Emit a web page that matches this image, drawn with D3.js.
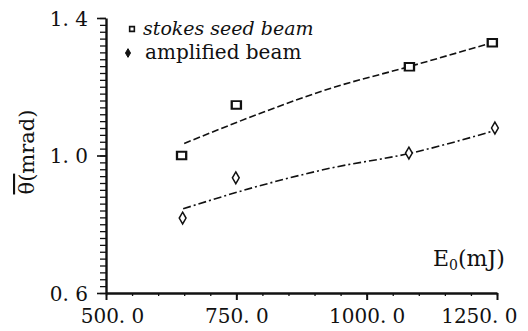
<!DOCTYPE html>
<html>
<head>
<meta charset="utf-8">
<script src="https://cdn.jsdelivr.net/npm/d3@7"></script>
<style>
  html, body { margin: 0; padding: 0; background: #fff; }
</style>
</head>
<body>
<svg id="chart" width="528" height="331"></svg>
<script>
// ---- data ----
const stokesE = [645, 750, 1082, 1241];
const stokesTheta = [1.00, 1.147, 1.258, 1.328];
const amplifiedE = [647, 749, 1081, 1246];
const amplifiedTheta = [0.818, 0.935, 1.007, 1.08];
const stokesFitE = [650, 800, 930, 1080, 1245];
const stokesFitTheta = [1.035, 1.125, 1.195, 1.258, 1.33];
const amplifiedFitE = [648, 795, 930, 1082, 1240];
const amplifiedFitTheta = [0.845, 0.912, 0.963, 1.006, 1.07];
const xTickValues = [500, 750, 1000, 1250];
const xTickLabels = ["500. 0", "750. 0", "1000. 0", "1250. 0"];
const yTickValues = [0.6, 1.0, 1.4];
const yTickLabels = ["0. 6", "1. 0", "1. 4"];
const legendLabels = ["stokes seed beam", "amplified beam"];

// ---- drawing ----
const SERIF = "'DejaVu Serif', 'Liberation Serif', serif";
const svg = d3.select("#chart").attr("font-family", SERIF);
const x = d3.scaleLinear().domain([500, 1250]).range([106, 497]);
const y = d3.scaleLinear().domain([0.6, 1.4]).range([293, 18]);

const xMinor = d3.range(500, 1251, 50);
const yMinor = d3.range(0, 41).map(i => 0.6 + i * 0.02);

// y axis minor ticks
const yAxisMinor = svg.append("g").attr("transform", `translate(${x(500)},0)`)
  .call(d3.axisLeft(y).tickValues(yMinor).tickSize(6).tickFormat(""));
yAxisMinor.select(".domain").remove();
yAxisMinor.selectAll("line").attr("stroke", "#111").attr("stroke-width", 1.3);

// y axis major
const yAxis = svg.append("g").attr("transform", `translate(${x(500)},0)`)
  .call(d3.axisLeft(y).tickValues(yTickValues).tickSize(9).tickSizeOuter(0)
    .tickFormat((d, i) => yTickLabels[i]));
yAxis.attr("font-family", SERIF);
yAxis.select(".domain").attr("stroke", "#111").attr("stroke-width", 2.4);
yAxis.selectAll("line").attr("stroke", "#111").attr("stroke-width", 1.6);
yAxis.selectAll("text").attr("font-size", 20).attr("x", -18).attr("dy", "0.35em")
  .attr("fill", "#111");

// x axis minor
const xAxisMinor = svg.append("g").attr("transform", `translate(0,${y(0.6)})`)
  .call(d3.axisBottom(x).tickValues(xMinor).tickSize(3).tickFormat(""));
xAxisMinor.select(".domain").remove();
xAxisMinor.selectAll("line").attr("stroke", "#111").attr("stroke-width", 1.3);

// x axis major
const xAxis = svg.append("g").attr("transform", `translate(0,${y(0.6)})`)
  .call(d3.axisBottom(x).tickValues(xTickValues).tickSize(7).tickSizeOuter(0)
    .tickFormat((d, i) => xTickLabels[i]));
xAxis.attr("font-family", SERIF);
xAxis.select(".domain").attr("stroke", "#111").attr("stroke-width", 2.6);
xAxis.selectAll("line").attr("stroke", "#111").attr("stroke-width", 2);
xAxis.selectAll("text").attr("font-size", 20).attr("y", 16).attr("dy", "0.71em")
  .attr("fill", "#111")
  .attr("text-anchor", (d, i) => i === xTickValues.length - 1 ? "end" : "middle")
  .attr("x", (d, i) => i === xTickValues.length - 1 ? 20 : (i === 0 ? 6 : 0));

// fit lines
const line = d3.line().x(d => x(d[0])).y(d => y(d[1])).curve(d3.curveMonotoneX);
svg.append("path")
  .datum(stokesFitE.map((e, i) => [e, stokesFitTheta[i]]))
  .attr("d", line).attr("fill", "none").attr("stroke", "#111")
  .attr("stroke-width", 1.6).attr("stroke-dasharray", "7,3");
svg.append("path")
  .datum(amplifiedFitE.map((e, i) => [e, amplifiedFitTheta[i]]))
  .attr("d", line).attr("fill", "none").attr("stroke", "#111")
  .attr("stroke-width", 1.6).attr("stroke-dasharray", "8,3,2,3");

// markers
const sq = d3.symbol().type(d3.symbolSquare).size(64);
const dm = d3.symbol().type(d3.symbolDiamond).size(40);
svg.append("g").selectAll("path")
  .data(stokesE.map((e, i) => [e, stokesTheta[i]]))
  .join("path")
  .attr("d", sq)
  .attr("transform", d => `translate(${x(d[0])},${y(d[1])}) scale(1.15,0.95)`)
  .attr("fill", "#fff").attr("stroke", "#111").attr("stroke-width", 2);
svg.append("g").selectAll("path")
  .data(amplifiedE.map((e, i) => [e, amplifiedTheta[i]]))
  .join("path")
  .attr("d", dm)
  .attr("transform", d => `translate(${x(d[0])},${y(d[1])})`)
  .attr("fill", "#fff").attr("stroke", "#111").attr("stroke-width", 1.5);

// legend
const leg = svg.append("g");
leg.append("path").attr("d", d3.symbol().type(d3.symbolSquare).size(22))
  .attr("transform", "translate(132,29)")
  .attr("fill", "#fff").attr("stroke", "#111").attr("stroke-width", 1.6);
leg.append("path").attr("d", d3.symbol().type(d3.symbolDiamond).size(22))
  .attr("transform", "translate(128,53)")
  .attr("fill", "#111").attr("stroke", "#111").attr("stroke-width", 1);
leg.append("text").attr("x", 143).attr("y", 35).attr("font-size", 19)
  .attr("font-style", "italic").attr("fill", "#111").text(legendLabels[0]);
leg.append("text").attr("x", 145).attr("y", 59).attr("font-size", 20)
  .attr("fill", "#111").text(legendLabels[1]);

// axis titles
const yt = svg.append("text")
  .attr("transform", "translate(34,152) rotate(-90)")
  .attr("text-anchor", "middle").attr("font-size", 21).attr("fill", "#111");
yt.append("tspan").style("text-decoration", "overline").text("θ(");
yt.append("tspan").text("mrad)");

const xt = svg.append("text").attr("x", 433).attr("y", 266).attr("font-size", 22)
  .attr("fill", "#111");
xt.append("tspan").text("E");
xt.append("tspan").attr("font-size", 14).attr("dy", 4).text("0");
xt.append("tspan").attr("dy", -4).text("(mJ)");
</script>
</body>
</html>
